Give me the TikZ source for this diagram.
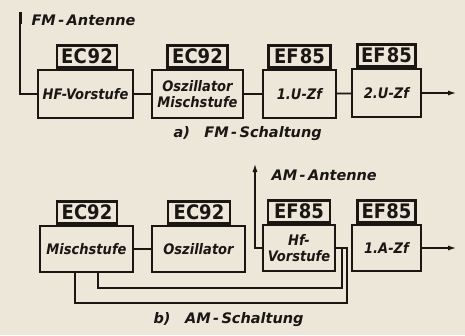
\documentclass[tikz,border=0pt]{standalone}
\usepackage{fontspec}
\setmainfont{DejaVu Sans Condensed}
\newfontfamily\widefont{DejaVu Sans}
\usetikzlibrary{positioning,arrows.meta}
\definecolor{paper}{RGB}{236,231,217}
\definecolor{ink}{RGB}{25,22,20}
\tikzset{
  stage/.style={draw=ink, line width=2.4pt, align=center, inner sep=0pt,
    font=\fontsize{14.5}{15.5}\selectfont\bfseries\itshape, text=ink},
  tube/.style={draw=ink, line width=2.4pt, anchor=south, inner sep=0pt,
    minimum height=22pt, font=\fontsize{20}{20}\selectfont\bfseries, text=ink},
  wire/.style={draw=ink, line width=1.8pt},
  caption/.style={font=\widefont\fontsize{14.5}{15}\selectfont\bfseries\itshape, text=ink, anchor=west}
}
\begin{document}
\begin{tikzpicture}[x=1pt, y=-1pt, >={Latex[length=9pt,width=5pt]}]
  \fill[paper] (0,0) rectangle (465,335);
  \useasboundingbox (0,0) rectangle (465,335);
  % a) FM
  \node[stage, minimum width=95pt, minimum height=48pt] (a1) at (85.5,94) {HF-Vorstufe};
  \node[stage, minimum width=91pt, minimum height=48pt] (a2) at (197.5,94) {Oszillator\\Mischstufe};
  \node[stage, minimum width=73pt, minimum height=48pt] (a3) at (299.5,94) {1.U-Zf};
  \node[stage, minimum width=69pt, minimum height=48pt] (a4) at (386.5,93) {2.U-Zf};
  \node[tube, minimum width=60pt] (ta1) at ([xshift=1.5pt]a1.north) {EC\kern1pt92};
  \node[tube, minimum width=60pt] (ta2) at (a2.north) {EC92};
  \node[tube, minimum width=62pt] (ta3) at (a3.north) {EF\kern1pt85};
  \node[tube, minimum width=58pt] (ta4) at (a4.north) {EF\kern1pt85};
  \coordinate (fmant) at (20,12);
  \coordinate (outa) at (457,93);
  \draw[wire] (fmant) |- (a1.west);
  \draw[ink, line width=3pt] (fmant) -- ++(0,12);
  \draw[wire] (a1) -- (a2);
  \draw[wire] (a2) -- (a3);
  \draw[wire] (a3) -- (a4);
  \draw[wire, ->] (a4) -- (outa);
  \node[caption] (fmlbl) at (28,20) {FM\,-\,Antenne};
  \node[caption] (capa) at (170,134) {a)\quad FM\,-\,Schaltung};
  % b) AM
  \node[stage, minimum width=93pt, minimum height=46pt] (b1) at (86.5,249) {Mischstufe};
  \node[stage, minimum width=93pt, minimum height=46pt] (b2) at (198.5,249) {Oszillator};
  \node[stage, minimum width=72pt, minimum height=46pt] (b3) at (299,248) {Hf-\\Vorstufe};
  \node[stage, minimum width=69pt, minimum height=46pt] (b4) at (386.5,248) {1.A-Zf};
  \node[tube, minimum width=60pt] (tb1) at ([xshift=0.5pt]b1.north) {EC92};
  \node[tube, minimum width=62pt] (tb2) at ([xshift=0.5pt]b2.north) {EC92};
  \node[tube, minimum width=62pt] (tb3) at (b3.north) {EF85};
  \node[tube, minimum width=58pt] (tb4) at (b4.north) {EF85};
  \coordinate (amant) at (255,163);
  \coordinate (busi) at (342,288);
  \coordinate (buso) at (347,303);
  \coordinate (outb) at (457,248);
  \draw[wire, ->] (b3.west) -| (amant);
  \draw[wire] (b1) -- (b2);
  \draw[wire] ([xshift=11.5pt]b1.south) |- (busi) |- (b3.east);
  \draw[wire] ([xshift=-11.5pt]b1.south) |- (buso) |- (b3.east);
  \draw[wire, ->] (b4) -- (outb);
  \node[caption] (amlbl) at (268,175) {AM\,-\,Antenne};
  \node[caption] (capb) at (150,320) {b)\quad AM\,-\,Schaltung};
\end{tikzpicture}
\end{document}
